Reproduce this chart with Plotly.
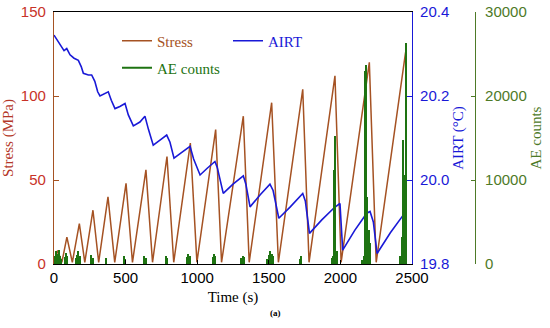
import plotly.graph_objects as go

# ---------------- data ----------------
# Stress: cyclic loading, valleys and peaks (time s, MPa)
valley_t = [0, 55, 128, 215, 312, 424, 548, 688, 836, 998, 1170, 1363, 1567, 1781, 2005, 2250]
valley_v = [0, 1, 1, 1, 1, 1, 1, 1, 1, 1, 1, 1, 1, 1, 1, 1]
peak_t = [25, 90, 177, 272, 377, 503, 642, 789, 952, 1129, 1322, 1520, 1737, 1962, 2202, 2455]
peak_v = [8, 16, 24, 32, 40, 48, 56, 64, 72, 80, 88, 96, 104, 112, 120, 126]

# AIRT (time s, degC)
airt_t = [0, 20, 54, 70, 89, 112, 140, 170, 190, 205, 240, 263, 285, 305, 321, 350,
          379, 400, 426, 460, 496, 519, 554, 600, 635, 660, 693, 740, 787, 810, 838,
          890, 950, 975, 1020, 1070, 1124, 1140, 1182, 1250, 1322, 1340, 1369, 1440,
          1508, 1530, 1570, 1650, 1737, 1755, 1784, 1870, 1960, 1997, 2016, 2100,
          2184, 2207, 2230, 2256, 2350, 2440]
airt_v = [20.345, 20.335, 20.317, 20.308, 20.313, 20.298, 20.290, 20.285, 20.270, 20.254,
          20.250, 20.250, 20.235, 20.210, 20.200, 20.205, 20.210, 20.190, 20.170, 20.175,
          20.182, 20.155, 20.129, 20.138, 20.152, 20.120, 20.083, 20.095, 20.107, 20.090,
          20.052, 20.065, 20.080, 20.050, 20.012, 20.028, 20.044, 20.030, 19.968, 19.990,
          20.010, 19.990, 19.936, 19.965, 19.990, 19.975, 19.909, 19.936, 19.968, 19.950,
          19.873, 19.905, 19.935, 19.944, 19.833, 19.880, 19.921, 19.925, 19.900, 19.825,
          19.875, 19.917]

# AE counts (time s, counts)
ae_t = [8, 18, 26, 34, 42, 50, 76, 84, 92, 152, 162, 172, 180, 262, 270, 365, 493, 500,
        632, 640, 783, 790, 930, 940, 948, 1112, 1120, 1128, 1310, 1318, 1326,
        1488, 1500, 1510, 1520, 1528, 1720, 1728, 1940, 1950, 1958, 1966, 1974,
        2150, 2165, 2174, 2182, 2190, 2198, 2206, 2420, 2430, 2440, 2448, 2458]
ae_v = [900, 1500, 1200, 1700, 1000, 600, 800, 1300, 900, 700, 1100, 1500, 900, 1100, 700,
        700, 900, 600, 1000, 700, 1000, 700, 800, 1200, 900, 800, 1200, 900, 700, 1000, 800,
        600, 1100, 1500, 1200, 900, 600, 900, 700, 900, 11200, 15200, 1500,
        500, 900, 23000, 23700, 8000, 4000, 2500, 900, 3200, 14800, 10600, 26300]

x_ticks = [0, 500, 1000, 1500, 2000, 2500]
stress_ticks = [0, 50, 100, 150]
airt_ticks = [19.8, 20.0, 20.2, 20.4]
ae_ticks = [0, 10000, 20000, 30000]

# ---------------- build stress polyline from the vertices ----------------
stress_t, stress_v = [], []
for vt, vv, pt, pv in zip(valley_t, valley_v, peak_t, peak_v):
    stress_t += [vt, pt]
    stress_v += [vv, pv]

# ---------------- colours / fonts ----------------
C_STRESS = "rgb(165,82,35)"
C_STRESS_TXT = "rgb(200,50,40)"
C_AIRT = "rgb(25,25,215)"
C_AE = "rgb(30,115,18)"
C_AE_AX = "rgb(78,122,40)"
SANS = "Liberation Sans, Arial, sans-serif"
SERIF = "Liberation Serif, Times New Roman, serif"

W, H = 550, 328
PL, PR, PT, PB = 54, 412, 12, 264          # plot area in page pixels
ML, MT = PL, PT
MB = H - PB
MR = 6
plot_w = W - ML - MR
plot_h = H - MT - MB


def px_x(p):
    return (p - PL) / plot_w


def px_y(p):
    return (PB - p) / plot_h


x_end = px_x(PR)
ae_pos = px_x(475)

fig = go.Figure()

fig.add_trace(go.Scatter(
    x=airt_t, y=airt_v, mode="lines", name="AIRT", yaxis="y2",
    line=dict(color=C_AIRT, width=1.6), legend="legend3"))
fig.add_trace(go.Scatter(
    x=stress_t, y=stress_v, mode="lines", name="Stress", yaxis="y",
    line=dict(color=C_STRESS, width=1.5), legend="legend"))
fig.add_trace(go.Bar(
    x=ae_t, y=ae_v, name="AE counts", yaxis="y3", width=9, showlegend=False,
    marker=dict(color=C_AE, line=dict(width=0))))
fig.add_trace(go.Scatter(
    x=[None], y=[None], mode="lines", name="AE counts", yaxis="y3",
    line=dict(color=C_AE, width=2), legend="legend2"))

leg_common = dict(orientation="h", xanchor="left", yanchor="middle",
                  bgcolor="rgba(0,0,0,0)")

fig.update_layout(
    width=W, height=H,
    margin=dict(l=ML, r=MR, t=MT, b=MB, autoexpand=False),
    paper_bgcolor="white", plot_bgcolor="white",
    bargap=0, showlegend=True,
    xaxis=dict(
        domain=[0, x_end], range=[0, 2500], tickvals=x_ticks, automargin=False,
        showgrid=False, zeroline=False,
        showline=True, linecolor="black", linewidth=1.2, mirror=True,
        ticks="inside", ticklen=4, tickcolor="black", ticklabeloverflow="allow",
        tickfont=dict(family=SANS, size=15, color="black"),
        title=dict(text="Time (s)", font=dict(family=SERIF, size=15, color="black"), standoff=6),
    ),
    yaxis=dict(
        range=[0, 150], tickvals=stress_ticks, automargin=False,
        showgrid=False, zeroline=False,
        showline=True, linecolor=C_STRESS, linewidth=1.2,
        ticks="inside", ticklen=5, tickcolor=C_STRESS,
        ticklabelstandoff=4, ticklabeloverflow="allow",
        tickfont=dict(family=SANS, size=15, color=C_STRESS_TXT),
        title=dict(text="Stress (MPa)", font=dict(family=SERIF, size=15, color="rgb(180,55,40)"), standoff=8),
    ),
    yaxis2=dict(
        overlaying="y", side="right", anchor="x", automargin=False,
        range=[19.8, 20.4], tickvals=airt_ticks, tickformat=".1f",
        showgrid=False, zeroline=False,
        showline=True, linecolor=C_AIRT, linewidth=1.2,
        ticks="inside", ticklen=5, tickcolor=C_AIRT,
        ticklabelstandoff=4, ticklabeloverflow="allow",
        tickfont=dict(family=SANS, size=15, color=C_AIRT),
        title=dict(text="AIRT (°C)", font=dict(family=SERIF, size=15, color=C_AIRT), standoff=4),
    ),
    yaxis3=dict(
        overlaying="y", side="right", anchor="free", position=ae_pos, automargin=False,
        range=[0, 30000], tickvals=ae_ticks, tickformat="d",
        showgrid=False, zeroline=False,
        showline=True, linecolor=C_AE_AX, linewidth=1.2,
        ticks="inside", ticklen=4, tickcolor=C_AE_AX,
        ticklabelstandoff=6, ticklabeloverflow="allow",
        tickfont=dict(family=SANS, size=15, color=C_AE_AX),
        title=dict(text="AE counts", font=dict(family=SERIF, size=15, color=C_AE_AX), standoff=4),
    ),
    legend=dict(x=px_x(117), y=px_y(41), font=dict(family=SERIF, size=15, color=C_STRESS), **leg_common),
    legend3=dict(x=px_x(228), y=px_y(41), font=dict(family=SERIF, size=15, color=C_AIRT), **leg_common),
    legend2=dict(x=px_x(117), y=px_y(68), font=dict(family=SERIF, size=15, color=C_AE), **leg_common),
    annotations=[dict(
        text="<b>(a)</b>", x=px_x(275), y=px_y(320),
        xref="paper", yref="paper", showarrow=False,
        font=dict(family=SERIF, size=9, color="black"))],
)

# remove the browser's default 8px page margin so the figure fills the window
fig.write_html("out.html", config={"displayModeBar": False},
               post_script="document.body.style.margin='0';")
